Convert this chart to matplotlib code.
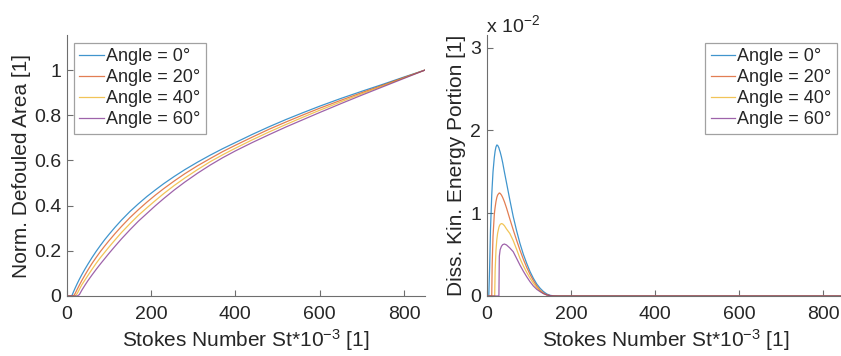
import matplotlib
matplotlib.use("Agg")
import matplotlib.pyplot as plt

plt.rcParams['font.family'] = ['Liberation Sans', 'DejaVu Sans']
plt.rcParams['mathtext.fontset'] = 'custom'
plt.rcParams['mathtext.rm'] = 'Liberation Sans'
plt.rcParams['mathtext.it'] = 'Liberation Sans:italic'
plt.rcParams['mathtext.bf'] = 'Liberation Sans:bold'

# ---------------- data ----------------
labels = ["Angle = 0°", "Angle = 20°", "Angle = 40°", "Angle = 60°"]
colors = ["#0072BD", "#D95319", "#EDB120", "#7E2F8E"]

# Left: normalized defouled area
st_area = [0, 12, 16, 20, 25, 30, 36, 43, 50, 60, 70, 80, 90, 100, 115, 130, 150,
           170, 190, 210, 230, 255, 280, 310, 340, 370, 400, 440, 480, 520, 560,
           600, 650, 700, 750, 800, 850]
area_0 = [0, 0, 0.018, 0.035, 0.055, 0.074, 0.095, 0.118, 0.14, 0.17, 0.198,
          0.224, 0.249, 0.272, 0.305, 0.336, 0.374, 0.408, 0.44, 0.469, 0.497,
          0.529, 0.559, 0.592, 0.623, 0.652, 0.679, 0.715, 0.749, 0.781, 0.811,
          0.84, 0.874, 0.906, 0.937, 0.969, 1.0]
area_20 = [0, 0, 0, 0.011, 0.03, 0.048, 0.069, 0.092, 0.114, 0.144, 0.171,
           0.197, 0.221, 0.244, 0.277, 0.308, 0.347, 0.382, 0.415, 0.446, 0.475,
           0.509, 0.541, 0.576, 0.608, 0.639, 0.667, 0.703, 0.738, 0.77, 0.801,
           0.831, 0.866, 0.9, 0.933, 0.967, 1.0]
area_40 = [0, 0, 0, 0, 0.011, 0.029, 0.05, 0.07, 0.09, 0.118, 0.145, 0.17,
           0.193, 0.216, 0.249, 0.281, 0.32, 0.357, 0.39, 0.422, 0.453, 0.489,
           0.522, 0.559, 0.594, 0.625, 0.654, 0.691, 0.726, 0.759, 0.791, 0.822,
           0.859, 0.895, 0.93, 0.965, 1.0]
area_60 = [0, 0, 0, 0, 0, 0.006, 0.026, 0.047, 0.067, 0.093, 0.118, 0.142,
           0.165, 0.188, 0.221, 0.253, 0.293, 0.331, 0.365, 0.399, 0.431, 0.469,
           0.504, 0.543, 0.579, 0.612, 0.642, 0.679, 0.714, 0.748, 0.78, 0.812,
           0.851, 0.889, 0.926, 0.963, 1.0]

# Right: dissipated kinetic energy portion (x 1e-2)
st_energy = [0, 5, 7, 9, 12, 13, 15, 18, 19, 20, 22, 24, 26, 29, 30, 32, 35, 38,
             42, 47, 55, 63, 71, 79, 87, 95, 103, 111, 119, 127, 135, 143, 151,
             159, 170, 850]
energy_0 = [0, 0, 0.35, 0.8, 1.22, 1.32, 1.5, 1.67, 1.71, 1.75, 1.8, 1.824, 1.82,
            1.79, 1.77, 1.74, 1.68, 1.61, 1.5, 1.37, 1.16, 0.96, 0.79, 0.636,
            0.505, 0.395, 0.295, 0.213, 0.145, 0.093, 0.053, 0.024, 0.008,
            0.002, 0, 0]
energy_20 = [0, 0, 0, 0, 0, 0.38, 0.72, 0.98, 1.03, 1.07, 1.14, 1.19, 1.22,
             1.24, 1.245, 1.24, 1.22, 1.19, 1.14, 1.065, 0.93, 0.80, 0.675,
             0.555, 0.445, 0.346, 0.26, 0.185, 0.12, 0.07, 0.036, 0.014, 0.004,
             0.001, 0, 0]
energy_40 = [0, 0, 0, 0, 0, 0, 0, 0, 0, 0.3, 0.55, 0.68, 0.76, 0.83, 0.845,
             0.865, 0.875, 0.87, 0.85, 0.81, 0.755, 0.67, 0.565, 0.455, 0.365,
             0.286, 0.215, 0.153, 0.10, 0.06, 0.03, 0.012, 0.004, 0.001, 0, 0]
energy_60 = [0, 0, 0, 0, 0, 0, 0, 0, 0, 0, 0, 0, 0, 0, 0.48, 0.56, 0.60, 0.62,
             0.628, 0.617, 0.58, 0.535, 0.455, 0.374, 0.30, 0.233, 0.172, 0.12,
             0.08, 0.052, 0.028, 0.012, 0.004, 0.001, 0, 0]

xticks = [0, 200, 400, 600, 800]
area_yticks = [0, 0.2, 0.4, 0.6, 0.8, 1]
area_yticklabels = ["0", "0.2", "0.4", "0.6", "0.8", "1"]
energy_yticks = [0, 1, 2, 3]

# ---------------- figure ----------------
W, H = 841, 356
fig = plt.figure(figsize=(W / 100, H / 100), dpi=100)

def px_axes(x0, x1, ytop, ybot):
    return [x0 / W, (H - ybot) / H, (x1 - x0) / W, (ybot - ytop) / H]

ax1 = fig.add_axes(px_axes(66.7, 425.1, 35, 296))
ax2 = fig.add_axes(px_axes(486.7, 844.4, 35, 296))

text_c = "#262626"
spine_c = "#6e6e6e"

def style(ax):
    for s in ("top", "right"):
        ax.spines[s].set_visible(False)
    for s in ("left", "bottom"):
        ax.spines[s].set_color(spine_c)
        ax.spines[s].set_linewidth(0.8)
    ax.tick_params(direction="in", length=4, width=0.8, color=spine_c,
                   labelcolor=text_c, labelsize=14)
    ax.tick_params(axis="x", pad=7)
    ax.tick_params(axis="y", pad=4)
    ax.set_xlim(0, 850)
    ax.set_xticks(xticks)
    ax.set_xlabel("Stokes Number St*10$^{-3}$ [1]", fontsize=15, color=text_c,
                  labelpad=3)

area_series = [area_0, area_20, area_40, area_60]
for vals, c, lab in zip(area_series, colors, labels):
    ax1.plot(st_area, vals, color=c, lw=0.9, label=lab, alpha=0.75)
style(ax1)
ax1.set_ylim(0, 1.155)
ax1.set_yticks(area_yticks)
ax1.set_yticklabels(area_yticklabels)
ax1.set_ylabel("Norm. Defouled Area [1]", fontsize=15, color=text_c, labelpad=2)

energy_series = [energy_0, energy_20, energy_40, energy_60]
for vals, c, lab in zip(energy_series, colors, labels):
    ax2.plot(st_energy, vals, color=c, lw=0.9, label=lab, alpha=0.75)
style(ax2)
ax2.set_ylim(0, 3.153)
ax2.set_yticks(energy_yticks)
ax2.set_ylabel("Diss. Kin. Energy Portion [1]", fontsize=15, color=text_c,
               labelpad=3)
fig.text(486 / W, 1 - 25 / H, "x 10$^{-2}$", fontsize=14, color=text_c,
         ha="left", va="center")

def legend(ax, loc, anchor):
    lg = ax.legend(loc=loc, bbox_to_anchor=anchor, bbox_transform=fig.transFigure,
                   fontsize=13, frameon=True, fancybox=False, borderpad=0.3,
                   handlelength=1.35, handletextpad=0.12, labelspacing=0.22,
                   borderaxespad=0.0)
    fr = lg.get_frame()
    fr.set_edgecolor("#8a8a8a")
    fr.set_linewidth(0.9)
    for t in lg.get_texts():
        t.set_color(text_c)
    return lg

legend(ax1, "upper left", (74 / W, 1 - 43 / H))
legend(ax2, "upper right", (837 / W, 1 - 43 / H))

fig.savefig("out.png", dpi=100)
